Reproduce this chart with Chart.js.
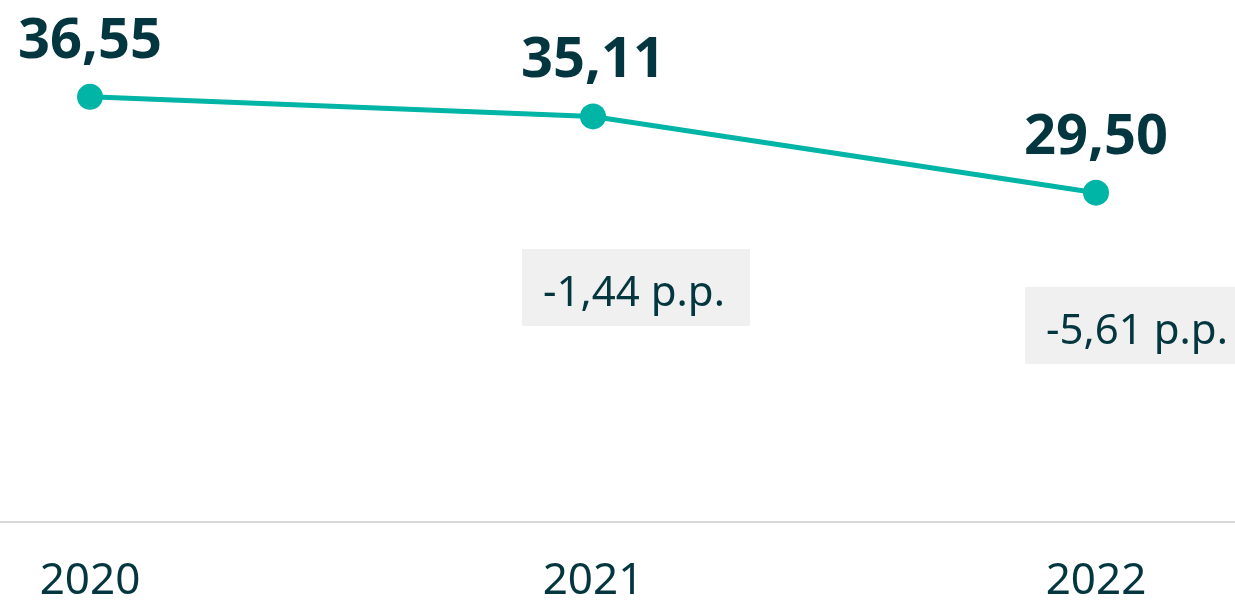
<!DOCTYPE html>
<html>
<head>
<meta charset="utf-8">
<script src="https://cdn.jsdelivr.net/npm/chart.js@4/dist/chart.umd.min.js"></script>
<style>
  html, body { margin: 0; padding: 0; background: #ffffff; }
  #wrap { width: 1235px; height: 604px; }
</style>
</head>
<body>
<div id="wrap"><canvas id="c" width="1235" height="604"></canvas></div>
<script>
// Yearly values and their change against the first year (percentage points)
const years = ['2020', '2021', '2022'];
const shares = [36.55, 35.11, 29.50];
const changes = [null, -1.44, -5.61];

const INK = '#04363f';
const TEAL = '#00b4a6';
const FONT = "'Noto Sans', 'Open Sans', sans-serif";

const fmt = (v) => v.toFixed(2).replace('.', ',');

// Bold value above each point, grey delta boxes below, and a full-width baseline
const annotate = {
  id: 'annotate',
  beforeDraw(chart) {
    const { ctx, chartArea } = chart;
    ctx.save();
    ctx.strokeStyle = '#d9d9d9';
    ctx.lineWidth = 2;
    ctx.beginPath();
    ctx.moveTo(0, chartArea.bottom);
    ctx.lineTo(chart.width, chartArea.bottom);
    ctx.stroke();
    ctx.restore();
  },
  afterDatasetsDraw(chart, args, opts) {
    const { ctx } = chart;
    const pts = chart.getDatasetMeta(0).data;
    ctx.save();
    ctx.fillStyle = INK;
    ctx.textAlign = 'center';
    ctx.textBaseline = 'alphabetic';
    ctx.font = `700 56px ${FONT}`;
    pts.forEach((p, i) => {
      ctx.fillText(fmt(shares[i]), p.x, p.y - 39);
    });
    ctx.font = `400 42px ${FONT}`;
    ctx.textAlign = 'left';
    pts.forEach((p, i) => {
      if (changes[i] === null) return;
      const left = p.x - 71;
      const top = opts.boxTops[i];
      ctx.fillStyle = '#f0f0f0';
      ctx.fillRect(left, top, 228, 77);
      ctx.fillStyle = INK;
      ctx.fillText(fmt(changes[i]) + ' p.p.', left + 21, top + 57);
    });
    ctx.restore();
  }
};

new Chart(document.getElementById('c'), {
  type: 'line',
  data: {
    labels: years,
    datasets: [{
      data: shares,
      borderColor: TEAL,
      backgroundColor: TEAL,
      borderWidth: 5,
      pointRadius: 13,
      pointHoverRadius: 13,
      pointBackgroundColor: TEAL,
      pointBorderWidth: 0,
      tension: 0,
      clip: false
    }]
  },
  options: {
    responsive: false,
    animation: false,
    devicePixelRatio: 1,
    layout: { padding: { left: 90, right: 139, top: 0, bottom: 0 } },
    plugins: {
      legend: { display: false },
      tooltip: { enabled: false },
      annotate: { boxTops: [null, 249, 287] }
    },
    scales: {
      x: {
        offset: false,
        grid: { display: false, drawTicks: false },
        border: { display: false },
        ticks: {
          color: INK,
          padding: 33,
          font: { family: FONT, size: 44, weight: '400', lineHeight: 1.2 },
          maxRotation: 0
        },
        afterFit(scale) { scale.height = 82; }
      },
      y: {
        display: false,
        min: 5.27,
        max: 42.72
      }
    }
  },
  plugins: [annotate]
});
</script>
</body>
</html>
